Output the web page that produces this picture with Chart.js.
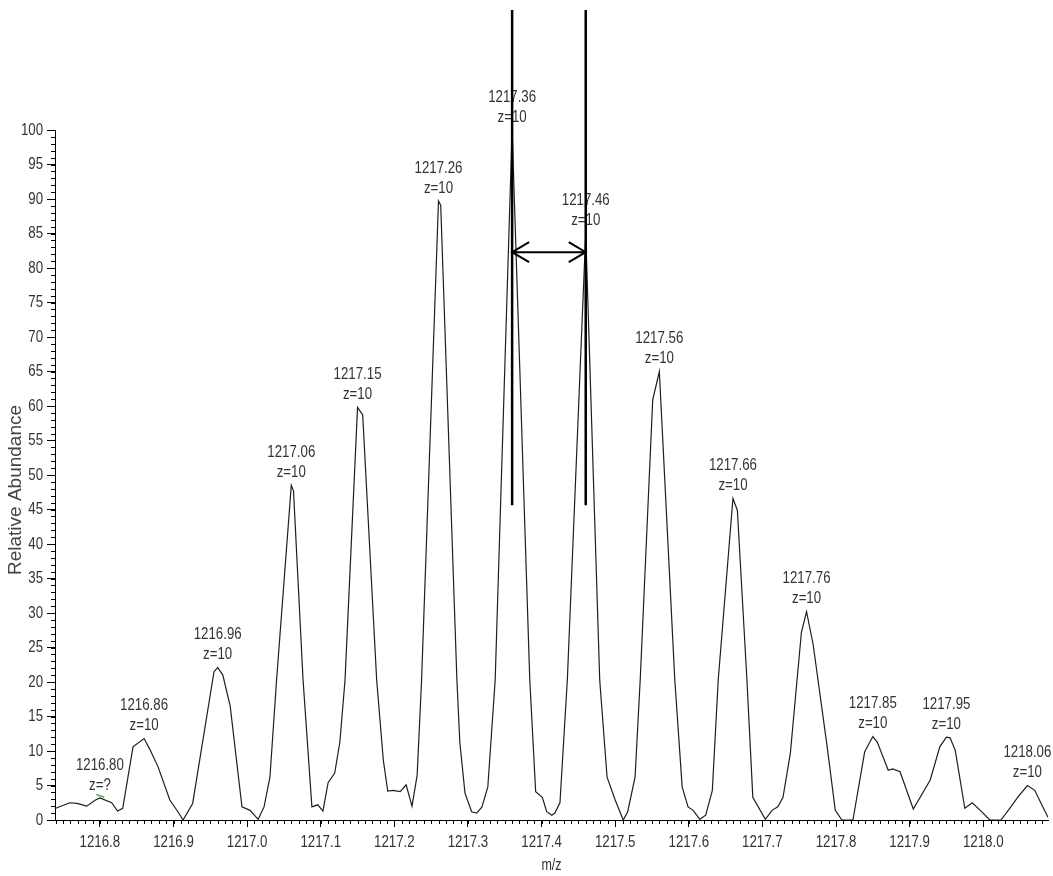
<!DOCTYPE html>
<html>
<head>
<meta charset="utf-8">
<script src="https://cdn.jsdelivr.net/npm/chart.js@4.4.1/dist/chart.umd.min.js"></script>
<style>
  body { margin: 0; background: #fff; }
  #wrap { width: 1053px; height: 876px; position: relative; }
</style>
</head>
<body>
<div id="wrap"><canvas id="spectrum"></canvas></div>
<script>
// profile spectrum (m/z, relative abundance)
const mzValues = [
  1216.740, 1216.759, 1216.769, 1216.782, 1216.794, 1216.800, 1216.816, 1216.824, 1216.831, 1216.845,
  1216.860, 1216.868, 1216.879, 1216.895, 1216.906, 1216.913, 1216.926, 1216.955, 1216.960, 1216.967,
  1216.977, 1216.993, 1217.004, 1217.015, 1217.023, 1217.031, 1217.040, 1217.060, 1217.063, 1217.076,
  1217.088, 1217.096, 1217.103, 1217.110, 1217.119, 1217.126, 1217.133, 1217.150, 1217.157, 1217.176,
  1217.185, 1217.191, 1217.198, 1217.208, 1217.216, 1217.224, 1217.231, 1217.237, 1217.260, 1217.263,
  1217.285, 1217.289, 1217.296, 1217.305, 1217.312, 1217.319, 1217.327, 1217.337, 1217.360, 1217.384,
  1217.392, 1217.401, 1217.407, 1217.414, 1217.418, 1217.425, 1217.435, 1217.460, 1217.479, 1217.489,
  1217.500, 1217.511, 1217.517, 1217.527, 1217.534, 1217.551, 1217.560, 1217.581, 1217.591, 1217.599,
  1217.606, 1217.615, 1217.623, 1217.632, 1217.640, 1217.660, 1217.666, 1217.679, 1217.687, 1217.704,
  1217.713, 1217.721, 1217.728, 1217.738, 1217.753, 1217.760, 1217.769, 1217.788, 1217.799, 1217.808,
  1217.823, 1217.839, 1217.850, 1217.856, 1217.871, 1217.877, 1217.887, 1217.905, 1217.928, 1217.941,
  1217.950, 1217.955, 1217.962, 1217.975, 1217.985, 1217.996, 1218.009, 1218.024, 1218.036, 1218.047,
  1218.060, 1218.070, 1218.081, 1218.088
];
const abundance = [
  1.7, 2.5, 2.4, 2.0, 2.9, 3.2, 2.5, 1.3, 1.7, 10.6,
  11.8, 10.2, 7.7, 2.9, 1.2, 0.0, 2.4, 21.5, 22.1, 21.0,
  16.5, 1.9, 1.4, 0.1, 1.9, 6.2, 20.3, 48.5, 47.7, 20.3,
  1.9, 2.2, 1.3, 5.4, 6.8, 11.3, 20.3, 59.8, 58.7, 20.3,
  8.7, 4.2, 4.3, 4.1, 5.1, 2.0, 6.5, 20.3, 89.7, 89.1,
  20.3, 11.2, 3.9, 1.2, 1.0, 1.9, 4.8, 20.3, 100.0, 20.3,
  4.1, 3.3, 1.2, 0.7, 1.0, 2.5, 20.3, 85.0, 20.3, 6.2,
  2.9, 0.0, 1.2, 6.2, 20.3, 60.9, 65.0, 20.3, 4.8, 1.9,
  1.4, 0.1, 0.7, 4.3, 20.3, 46.6, 44.9, 20.3, 3.3, 0.1,
  1.4, 1.9, 3.3, 9.7, 27.2, 30.2, 25.4, 10.6, 1.4, 0.0,
  0.0, 9.9, 12.1, 11.3, 7.2, 7.4, 7.0, 1.6, 5.8, 10.6,
  12.0, 11.9, 10.1, 1.7, 2.5, 1.4, 0.0, 0.0, 1.7, 3.3,
  5.0, 4.3, 1.9, 0.4
];

// labelled isotope peaks
const peakMz = [1216.80, 1216.86, 1216.96, 1217.06, 1217.15, 1217.26, 1217.36,
                1217.46, 1217.56, 1217.66, 1217.76, 1217.85, 1217.95, 1218.06];
const peakCharge = ['?', '10', '10', '10', '10', '10', '10',
                    '10', '10', '10', '10', '10', '10', '10'];

// spacing marker between two neighbouring peaks
const markerMz = [1217.36, 1217.46];
const markerSpan = [45.6, 117.4];
const arrowLevel = 82.3;

const xRange = [1216.739, 1218.088];
const yRange = [0, 100];

const FAMILY = '"Liberation Sans", Arial, sans-serif';
const NARROW = 0.78;   // horizontal squeeze, the labels use a narrow face

function narrowText(ctx, text, px, py, align) {
  ctx.save();
  ctx.translate(px, py);
  ctx.scale(NARROW, 1);
  ctx.textAlign = align;
  ctx.fillText(text, 0, 0);
  ctx.restore();
}

const overlay = {
  id: 'overlay',
  afterDatasetsDraw(chart) {
    const ctx = chart.ctx;
    const x = chart.scales.x;
    const y = chart.scales.y;
    ctx.save();

    // minor ticks
    ctx.strokeStyle = '#000';
    ctx.lineWidth = 1;
    ctx.beginPath();
    for (let i = Math.ceil(xRange[0] * 100); i <= Math.floor(xRange[1] * 100); i++) {
      const px = Math.round(x.getPixelForValue(i / 100)) + 0.5;
      ctx.moveTo(px, y.bottom);
      ctx.lineTo(px, y.bottom + 4);
    }
    for (let v = yRange[0]; v <= yRange[1]; v++) {
      const py = Math.round(y.getPixelForValue(v)) + 0.5;
      ctx.moveTo(x.left, py);
      ctx.lineTo(x.left - 4, py);
    }
    ctx.stroke();

    // tick labels
    ctx.fillStyle = '#333';
    ctx.font = '17px ' + FAMILY;
    ctx.textBaseline = 'middle';
    x.ticks.forEach(t => {
      narrowText(ctx, t.value.toFixed(1), x.getPixelForValue(t.value), y.bottom + 22, 'center');
    });
    y.ticks.forEach(t => {
      narrowText(ctx, String(Math.round(t.value)), x.left - 12, y.getPixelForValue(t.value), 'right');
    });

    // axis titles
    ctx.font = '16px ' + FAMILY;
    narrowText(ctx, 'm/z', (x.left + x.right) / 2, 866, 'center');
    ctx.save();
    ctx.translate(16, 490);
    ctx.rotate(-Math.PI / 2);
    ctx.font = '19px ' + FAMILY;
    ctx.fillStyle = '#444';
    ctx.textAlign = 'center';
    ctx.fillText('Relative Abundance', 0, 0);
    ctx.restore();

    // peak annotations
    ctx.font = '17px ' + FAMILY;
    ctx.fillStyle = '#333';
    peakMz.forEach((mz, i) => {
      const idx = mzValues.findIndex(m => Math.abs(m - mz) < 0.0005);
      const px = x.getPixelForValue(mz);
      const py = y.getPixelForValue(abundance[idx]);
      narrowText(ctx, mz.toFixed(2), px, py - 33, 'center');
      narrowText(ctx, 'z=' + peakCharge[i], px, py - 13, 'center');
    });

    // small green stroke under the unassigned charge
    ctx.strokeStyle = '#5caa5c';
    ctx.lineWidth = 1.5;
    ctx.beginPath();
    ctx.moveTo(x.getPixelForValue(1216.795), y.getPixelForValue(3.7));
    ctx.lineTo(x.getPixelForValue(1216.806), y.getPixelForValue(3.3));
    ctx.stroke();

    // spacing lines and double arrow
    ctx.strokeStyle = '#000';
    ctx.lineWidth = 2.5;
    ctx.beginPath();
    markerMz.forEach(mz => {
      const px = x.getPixelForValue(mz);
      ctx.moveTo(px, y.getPixelForValue(markerSpan[0]));
      ctx.lineTo(px, y.getPixelForValue(markerSpan[1]));
    });
    ctx.stroke();

    const ax1 = x.getPixelForValue(markerMz[0]);
    const ax2 = x.getPixelForValue(markerMz[1]);
    const ay = y.getPixelForValue(arrowLevel);
    ctx.lineWidth = 2;
    ctx.beginPath();
    ctx.moveTo(ax1, ay);
    ctx.lineTo(ax2, ay);
    ctx.moveTo(ax1 + 17, ay - 10);
    ctx.lineTo(ax1, ay);
    ctx.lineTo(ax1 + 17, ay + 10);
    ctx.moveTo(ax2 - 17, ay - 10);
    ctx.lineTo(ax2, ay);
    ctx.lineTo(ax2 - 17, ay + 10);
    ctx.stroke();

    ctx.restore();
  }
};

new Chart(document.getElementById('spectrum'), {
  type: 'line',
  data: {
    datasets: [{
      data: mzValues.map((m, i) => ({ x: m, y: abundance[i] })),
      borderColor: '#1e1e1e',
      borderWidth: 1.2,
      pointRadius: 0,
      tension: 0,
      fill: false
    }]
  },
  options: {
    responsive: true,
    maintainAspectRatio: false,
    animation: false,
    events: [],
    layout: { padding: { top: 130, right: 5, left: 0, bottom: 0 } },
    plugins: {
      legend: { display: false },
      tooltip: { enabled: false }
    },
    scales: {
      x: {
        type: 'linear',
        min: xRange[0],
        max: xRange[1],
        afterFit(scale) { scale.height = 56; },
        border: { display: true, color: '#000', width: 1 },
        grid: { display: true, drawOnChartArea: false, drawTicks: true, tickLength: 7, color: '#000' },
        ticks: { stepSize: 0.1, includeBounds: false, autoSkip: false, display: false },
        title: { display: false }
      },
      y: {
        min: yRange[0],
        max: yRange[1],
        afterFit(scale) { scale.width = 55; },
        border: { display: true, color: '#000', width: 1 },
        grid: { display: true, drawOnChartArea: false, drawTicks: true, tickLength: 8, color: '#000' },
        ticks: { stepSize: 5, includeBounds: false, autoSkip: false, display: false },
        title: { display: false }
      }
    }
  },
  plugins: [overlay]
});
</script>
</body>
</html>
